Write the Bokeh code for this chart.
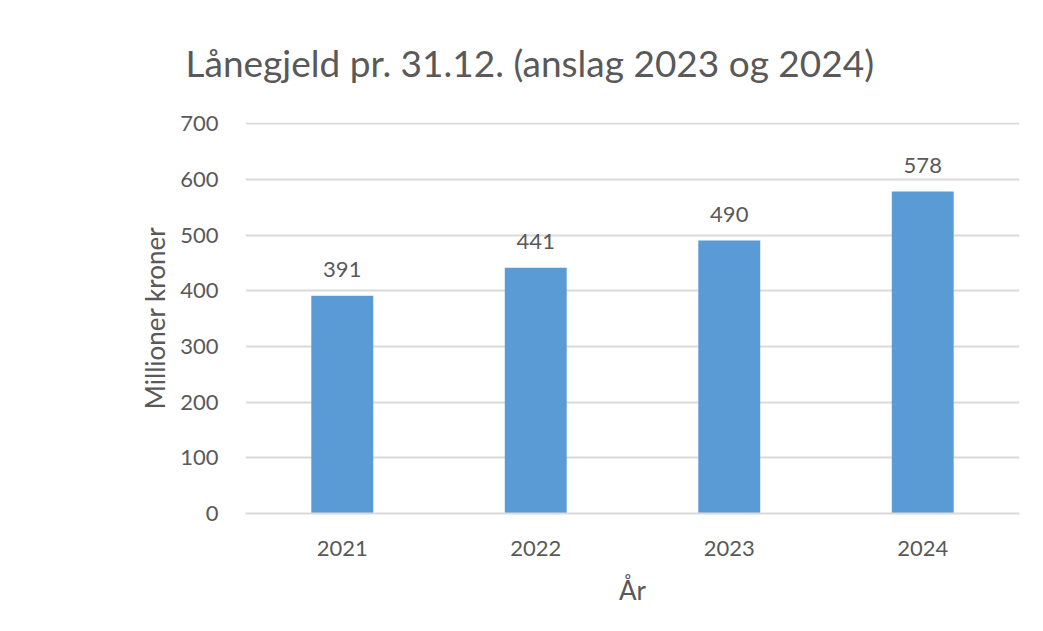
from bokeh.plotting import figure
from bokeh.models import ColumnDataSource, LabelSet, Title, FactorRange, Range1d
from bokeh.core.properties import value
from bokeh.embed import file_html
from bokeh.resources import INLINE

years = ["2021", "2022", "2023", "2024"]
values = [391, 441, 490, 578]
labels = [str(v) for v in values]
title_text = "Lånegjeld pr. 31.12. (anslag 2023 og 2024)"
y_label = "Millioner kroner"
x_label = "År"
y_ticks = [0, 100, 200, 300, 400, 500, 600, 700]

FONT = "Lato"
TXT = "#595959"

src = ColumnDataSource(dict(x=years, top=values, lab=labels))

p = figure(x_range=FactorRange(*years, range_padding=0), y_range=Range1d(0, 702),
           width=1035, height=623, output_backend="svg", toolbar_location=None,
           min_border_left=245, min_border_right=16, min_border_top=121, min_border_bottom=110)
p.outline_line_color = None
p.background_fill_color = "white"
p.border_fill_color = "white"

p.vbar(x="x", top="top", width=0.32, source=src, color="#5B9BD5", line_color=None)

p.add_layout(LabelSet(x="x", y="top", text="lab", source=src, text_align="center",
                      text_baseline="bottom", y_offset=19, text_font=value(FONT),
                      text_font_size="22px", text_color=TXT))

p.yaxis.ticker = y_ticks
p.yaxis.axis_line_color = None
p.yaxis.major_tick_line_color = None
p.yaxis.minor_tick_line_color = None
p.yaxis.major_label_standoff = 21
p.yaxis.major_label_text_font = FONT
p.yaxis.major_label_text_font_size = "22px"
p.yaxis.major_label_text_color = TXT
p.yaxis.axis_label = y_label
p.yaxis.axis_label_text_font = FONT
p.yaxis.axis_label_text_font_size = "26px"
p.yaxis.axis_label_text_font_style = "normal"
p.yaxis.axis_label_text_color = TXT
p.yaxis.axis_label_standoff = 6

p.xaxis.axis_line_color = "#D9D9D9"
p.xaxis.axis_line_width = 2
p.xaxis.major_tick_line_color = None
p.xaxis.minor_tick_line_color = None
p.xaxis.major_label_standoff = 21
p.xaxis.major_label_text_font = FONT
p.xaxis.major_label_text_font_size = "22px"
p.xaxis.major_label_text_color = TXT
p.xaxis.axis_label = x_label
p.xaxis.axis_label_text_font = FONT
p.xaxis.axis_label_text_font_size = "26px"
p.xaxis.axis_label_text_font_style = "normal"
p.xaxis.axis_label_text_color = TXT
p.xaxis.axis_label_standoff = 15

p.xgrid.grid_line_color = None
p.ygrid.grid_line_color = "#D9D9D9"
p.ygrid.grid_line_width = 2

p.add_layout(Title(text=title_text, align="left", offset=-60, standoff=75,
                   text_font=FONT, text_font_size="37px", text_font_style="normal",
                   text_color=TXT), "above")

open("out.html", "w").write(file_html(p, INLINE))
